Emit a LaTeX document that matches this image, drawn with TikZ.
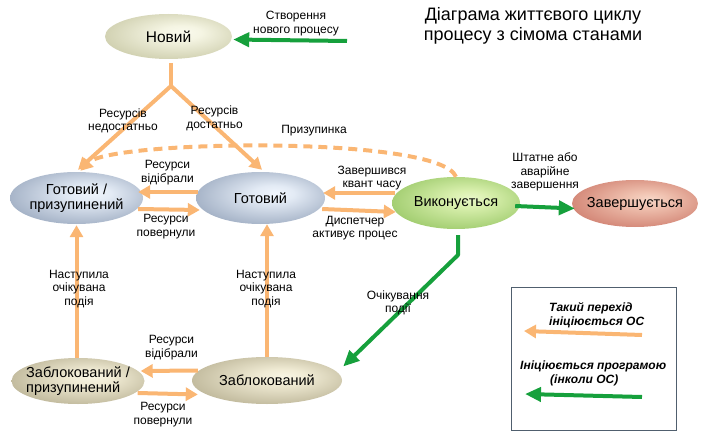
\documentclass[tikz,border=0pt]{standalone}
\usepackage{fontspec}
\setmainfont{Liberation Sans}
\usetikzlibrary{arrows.meta,shapes.geometric}
\definecolor{ora}{RGB}{250,182,115}
\definecolor{grn}{RGB}{22,160,60}
\definecolor{boxc}{RGB}{80,95,110}
\pgfdeclareradialshading{shnew}{\pgfpoint{6bp}{5bp}}{rgb(0bp)=(0.98,0.98,0.93); rgb(8bp)=(0.96,0.96,0.89); rgb(34bp)=(0.78,0.78,0.64); rgb(50bp)=(0.78,0.78,0.64)}
\pgfdeclareradialshading{shblu}{\pgfpoint{6bp}{5bp}}{rgb(0bp)=(0.94,0.96,0.99); rgb(8bp)=(0.89,0.92,0.96); rgb(34bp)=(0.58,0.64,0.73); rgb(50bp)=(0.58,0.64,0.73)}
\pgfdeclareradialshading{shgrn}{\pgfpoint{6bp}{5bp}}{rgb(0bp)=(0.91,0.97,0.78); rgb(8bp)=(0.85,0.94,0.68); rgb(34bp)=(0.58,0.77,0.38); rgb(50bp)=(0.58,0.77,0.38)}
\pgfdeclareradialshading{shred}{\pgfpoint{6bp}{5bp}}{rgb(0bp)=(0.97,0.84,0.78); rgb(8bp)=(0.94,0.76,0.69); rgb(34bp)=(0.80,0.47,0.41); rgb(50bp)=(0.80,0.47,0.41)}
\pgfdeclareradialshading{shtan}{\pgfpoint{6bp}{5bp}}{rgb(0bp)=(0.97,0.96,0.89); rgb(8bp)=(0.94,0.92,0.83); rgb(34bp)=(0.71,0.68,0.56); rgb(50bp)=(0.71,0.68,0.56)}
\begin{document}
\begin{tikzpicture}[x=1pt,y=-1pt,
  st/.style={ellipse, inner sep=-14pt, font=\fontsize{14.5}{15}\selectfont, align=center},
  lbl/.style={font=\fontsize{12}{13.5}\selectfont, align=center, inner sep=0pt},
  oline/.style={draw=ora, line width=4pt},
  oa/.style={oline, -{Triangle[length=12pt,width=13pt]}},
  ga/.style={draw=grn, line width=4pt, -{Triangle[length=16pt,width=14pt]}},
  leg/.style={font=\fontsize{12}{13.5}\selectfont\bfseries\itshape, align=left, inner sep=0pt, anchor=west},
]
\useasboundingbox (0,0) rectangle (710,436);

% states
\node[st, minimum width=127pt, minimum height=45pt, shading=shnew, font=\fontsize{15.5}{16}\selectfont] (new) at (168.5,36.5) {Новий};
\node[st, minimum width=133pt, minimum height=52pt, shading=shblu] (gp) at (76.5,198) {Готовий /\\призупинений};
\node[st, minimum width=129pt, minimum height=52pt, shading=shblu] (g) at (260.5,198) {Готовий};
\node[st, minimum width=128pt, minimum height=52pt, shading=shgrn] (ex) at (456,203) {Виконується};
\node[st, minimum width=126pt, minimum height=47pt, shading=shred] (fin) at (635,203.5) {Завершується};
\node[st, minimum width=133pt, minimum height=46pt, shading=shtan, align=left] (bp) at (78,381) {Заблокований /\\призупинений};
\node[st, minimum width=150pt, minimum height=47pt, shading=shtan] (b) at (267,380.5) {Заблокований};

% title
\node[font=\fontsize{18}{20}\selectfont, align=center] (title) at (533,26) {Діаграма життєвого циклу\\процесу з сімома станами};

% creation
\coordinate (cr) at (347,41);
\draw[ga] (cr) -- ([xshift=1pt,yshift=-3pt]new.east);
\node[lbl] (lcr) at (296,23.5) {Створення\\нового процесу};

% split from new
\coordinate (ns) at (171,63);
\coordinate (sp) at (171,86);
\draw[oline] (ns) -- (sp);
\draw[oa, line join=round] (sp) -- ([xshift=1.5pt,yshift=2pt]gp.north);
\draw[oa, line join=round] (sp) -- ([xshift=1.5pt,yshift=2pt]g.north);
\node[lbl] (l1) at (123,121) {Ресурсів\\недостатньо};
\node[lbl] (l2) at (214.5,118.5) {Ресурсів\\достатньо};

% dashed suspension arc
\draw[oline, dash pattern=on 9pt off 6pt, -{Triangle[length=12pt,width=13pt]}]
  (ex.north) .. controls (440,135) and (110,140) .. ([xshift=4pt,yshift=1pt]gp.north);
\node[lbl] (lsus) at (314,131) {Призупинка};

% ready <-> ready/suspended
\draw[oa] ([xshift=2pt,yshift=6pt]g.west) -- ([xshift=-5pt,yshift=6pt]gp.east);
\draw[oa] ([xshift=-5pt,yshift=-11pt]gp.east) -- ([xshift=4pt,yshift=-12pt]g.west);
\node[lbl] (l3) at (167.5,172.5) {Ресурси\\відібрали};
\node[lbl] (l4) at (166,226.5) {Ресурси\\повернули};

% ready <-> running
\draw[oa] ([xshift=3pt,yshift=10pt]ex.west) -- ([xshift=-2pt,yshift=5pt]g.east);
\draw[oa] ([xshift=-3pt,yshift=-11pt]g.east) -- ([xshift=4pt,yshift=-9pt]ex.west);
\node[lbl] (l5) at (372,178) {Завершився\\квант часу};
\node[lbl] (l6) at (355,228) {Диспетчер\\активує процес};

% running -> finished
\draw[ga] ([xshift=-5pt,yshift=-3pt]ex.east) -- ([xshift=3pt,yshift=-5pt]fin.west);
\node[lbl] (l7) at (545,172) {Штатне або\\аварійне\\завершення};

% running -> blocked
\coordinate (eb) at (458,255);
\draw[ga, line join=round] ([xshift=2pt,yshift=-6pt]ex.south) -- (eb) -- ([xshift=1pt,yshift=14pt]b.east);
\node[lbl] (l8) at (398,303) {Очікування\\події};

% event occurred
\draw[oa] (gp.south |- bp.north) -- ([yshift=-1pt]gp.south);
\draw[oa] (b.north) -- (b.north |- g.south);
\node[lbl] (l9) at (79,289) {Наступила\\очікувана\\подія};
\node[lbl] (l10) at (266,289) {Наступила\\очікувана\\подія};

% blocked <-> blocked/suspended
\draw[oa] ([xshift=6pt,yshift=10pt]b.west) -- ([xshift=-4pt,yshift=10pt]bp.east);
\draw[oa] ([xshift=-7pt,yshift=-12pt]bp.east) -- ([xshift=6pt,yshift=-14pt]b.west);
\node[lbl] (l11) at (171.5,347.5) {Ресурси\\відібрали};
\node[lbl] (l12) at (163,414.5) {Ресурси\\повернули};

% legend
\node[draw=boxc, line width=0.8pt, minimum width=165pt, minimum height=143pt, inner sep=0pt] (legend) at (593.5,358.5) {};
\node[leg] (lt1) at (549,315) {Такий перехід\\ініціюється ОС};
\coordinate (lo1) at (642,335);
\coordinate (lo2) at (524,331);
\draw[oa] (lo1) -- (lo2);
\node[leg] (lt2) at (520,373.5) {Ініціюється програмою\\\hspace*{30pt}(інколи ОС)};
\coordinate (lg1) at (642,397);
\coordinate (lg2) at (525,394);
\draw[ga] (lg1) -- (lg2);
\end{tikzpicture}
\end{document}
